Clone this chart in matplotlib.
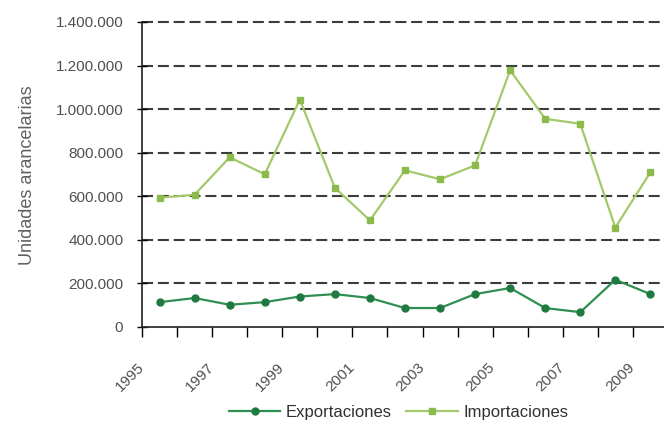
import matplotlib
matplotlib.use("Agg")
import matplotlib.pyplot as plt
from matplotlib.ticker import FuncFormatter, FixedLocator, NullFormatter

plt.rcParams['font.family'] = ['Liberation Sans', 'DejaVu Sans']

years = list(range(1995, 2010))
exportaciones = [112000, 131000, 100000, 112000, 138000, 149000, 131000, 85000,
                 85000, 149000, 177000, 85000, 66000, 215000, 149000]
importaciones = [592000, 606000, 778000, 700000, 1043000, 638000, 488000, 718000,
                 677000, 741000, 1178000, 955000, 932000, 455000, 709000]
year_labels = [str(y) for y in years[::2]]

fig = plt.figure(figsize=(6.64, 4.28), dpi=100)
ax = fig.add_axes([0.2139, 0.2371, 0.792, 0.7115])

x = list(range(len(years)))
ax.plot(x, exportaciones, color='#2f8f52', lw=1.6, marker='o', ms=5,
        mfc='#1f7a40', mec='#1f7a40', label='Exportaciones', zorder=3)
ax.plot(x, importaciones, color='#a3c96a', lw=1.6, marker='s', ms=4.5,
        mfc='#8dbb4b', mec='#8dbb4b', label='Importaciones', zorder=3)

ax.set_xlim(-0.5, 14.5)
ax.set_ylim(0, 1400000)

ax.set_yticks(range(0, 1400001, 200000))
ax.yaxis.set_major_formatter(FuncFormatter(lambda v, p: f"{int(v):,}".replace(',', '.')))
ax.tick_params(axis='y', direction='inout', length=7, width=1, pad=10,
               labelsize=11, labelcolor='#505050')

# tick marks between categories, labels every other year
ax.xaxis.set_major_locator(FixedLocator([i - 0.5 for i in range(len(years) + 1)]))
ax.xaxis.set_major_formatter(NullFormatter())
ax.tick_params(axis='x', which='major', direction='out', length=7, width=1)
ax.xaxis.set_minor_locator(FixedLocator([i - 0.36 for i in x[::2]]))
ax.set_xticklabels(year_labels, minor=True, rotation=45, ha='right', va='top',
                   fontsize=11, color='#505050')
ax.tick_params(axis='x', which='minor', length=0, pad=24)

for v in range(200000, 1400001, 200000):
    ax.axhline(v, color='#3c3c3c', lw=1.5, ls=(0, (5.3, 2.3)), zorder=1, clip_on=False)

ax.spines['top'].set_visible(False)
ax.spines['right'].set_visible(False)
ax.spines['left'].set_color('#202020')
ax.spines['bottom'].set_color('#202020')
ax.spines['left'].set_linewidth(1.2)
ax.spines['bottom'].set_linewidth(1.2)

fig.text(0.041, 0.591, 'Unidades arancelarias', rotation=90, ha='center', va='center',
         fontsize=13, color='#606060')

fig.legend(loc='center', bbox_to_anchor=(0.6, 0.037), ncol=2, frameon=False,
           fontsize=12, handlelength=3.1, columnspacing=0.9, handletextpad=0.3,
           labelcolor='#303030')

fig.savefig('out.png', dpi=100)
